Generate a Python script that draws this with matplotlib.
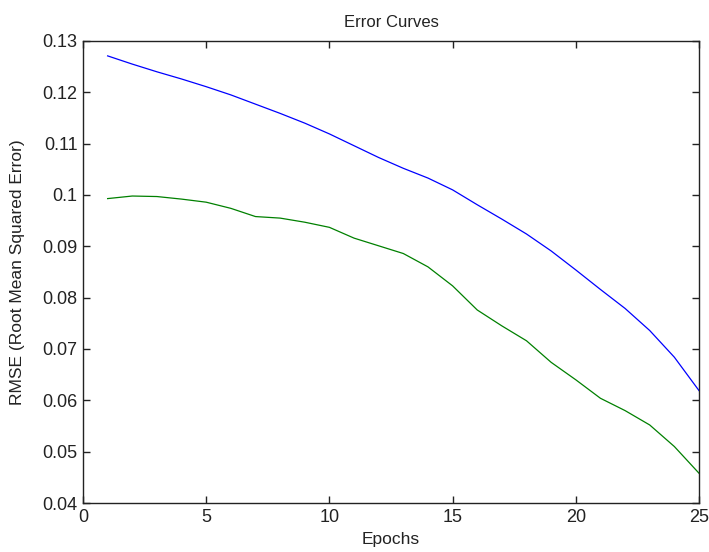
import matplotlib
matplotlib.use("Agg")
import matplotlib.pyplot as plt

epochs = list(range(1, 26))
rmse_blue = [0.1271, 0.1255, 0.1240, 0.1226, 0.1211, 0.1195, 0.1177, 0.1159, 0.1140, 0.1119,
             0.1096, 0.1073, 0.1052, 0.1033, 0.1010, 0.0981, 0.0953, 0.0924, 0.0891, 0.0854,
             0.0816, 0.0779, 0.0736, 0.0684, 0.0619]
rmse_green = [0.0993, 0.0998, 0.0997, 0.0992, 0.0986, 0.0974, 0.0958, 0.0955, 0.0947, 0.0937,
              0.0916, 0.0901, 0.0886, 0.0860, 0.0823, 0.0776, 0.0745, 0.0716, 0.0674, 0.0640,
              0.0604, 0.0580, 0.0552, 0.0510, 0.0458]
xticks = [0, 5, 10, 15, 20, 25]
yticks = [0.04, 0.05, 0.06, 0.07, 0.08, 0.09, 0.1, 0.11, 0.12, 0.13]
ytick_labels = ["0.04", "0.05", "0.06", "0.07", "0.08", "0.09", "0.1", "0.11", "0.12", "0.13"]

plt.rcParams['font.family'] = ['Liberation Sans', 'DejaVu Sans']

fig = plt.figure(figsize=(7.09, 5.52), dpi=100)
ax = fig.add_axes([83/709, 49/552, 616/709, 462/552])
ax.plot(epochs, rmse_blue, color=(0, 0, 1), lw=0.9)
ax.plot(epochs, rmse_green, color=(0, 0.5, 0), lw=0.9)
ax.set_xlim(0, 25)
ax.set_ylim(0.04, 0.13)
ax.set_xticks(xticks)
ax.set_yticks(yticks)
ax.set_yticklabels(ytick_labels)
ax.tick_params(direction='in', top=True, right=True, length=5, width=1, labelsize=13, pad=4,
               colors='#222222', labelcolor='#222222')
for s in ax.spines.values():
    s.set_linewidth(1)
    s.set_color('#222222')
ax.set_xlabel("Epochs", fontsize=12.5, color='#222222')
ax.xaxis.set_label_coords(0.5, -0.062)
ax.set_ylabel("RMSE (Root Mean Squared Error)", fontsize=12.5, color='#222222')
ax.yaxis.set_label_coords(-0.094, 0.5)
ax.set_title("Error Curves", fontsize=12, y=1.031, pad=0, color='#222222')
fig.savefig("out.png", dpi=100)
